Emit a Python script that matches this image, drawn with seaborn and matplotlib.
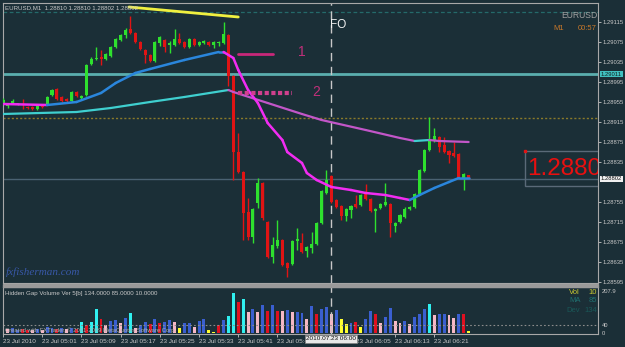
import numpy as np
import pandas as pd
import matplotlib
matplotlib.use("Agg")
import matplotlib.pyplot as plt
from matplotlib.patches import Rectangle
import seaborn as sns

# EURUSD M1 bars, 23 Jul 2010 04:53 .. 06:28
opens = [1.28953, 1.28947, 1.28953, 1.28951, 1.28951, 1.28945, 1.28945, 1.28941, 1.28949, 1.28951,
         1.28969, 1.28981, 1.28965, 1.28961, 1.28957, 1.28975, 1.28963, 1.28969, 1.29031, 1.29041,
         1.29045, 1.29041, 1.29047, 1.29065, 1.29079, 1.29089, 1.29101, 1.29093, 1.29075, 1.29059,
         1.29049, 1.29037, 1.29073, 1.29079, 1.29069, 1.29069, 1.29081, 1.29075, 1.29065, 1.29081,
         1.29069, 1.29073, 1.29075, 1.29069, 1.29073, 1.29073, 1.29089, 1.29007, 1.28855, 1.28815,
         1.28735, 1.28685, 1.28753, 1.28793, 1.28715, 1.28645, 1.28667, 1.28679, 1.28633, 1.28631,
         1.28677, 1.28673, 1.28657, 1.28663, 1.28671, 1.28713, 1.28773, 1.28807, 1.28759, 1.28747,
         1.28727, 1.28739, 1.28751, 1.28749, 1.28773, 1.28761, 1.28737, 1.28743, 1.28749, 1.28751,
         1.28707, 1.28715, 1.28725, 1.28741, 1.28745, 1.28771, 1.28817, 1.28859, 1.28877, 1.28885,
         1.28869, 1.28857, 1.28853, 1.28851, 1.28803, 1.28810]
highs = [1.28963, 1.28953, 1.28961, 1.28953, 1.28961, 1.28947, 1.28947, 1.28951, 1.28951, 1.28967,
         1.28981, 1.28983, 1.28967, 1.28963, 1.28977, 1.28977, 1.28969, 1.29031, 1.29045, 1.29065,
         1.29059, 1.29053, 1.29067, 1.29083, 1.29091, 1.29103, 1.29127, 1.29095, 1.29077, 1.29061,
         1.29051, 1.29077, 1.29087, 1.29081, 1.29077, 1.29101, 1.29093, 1.29077, 1.29083, 1.29083,
         1.29077, 1.29079, 1.29077, 1.29077, 1.29077, 1.29115, 1.29091, 1.29009, 1.28893, 1.28817,
         1.28763, 1.28743, 1.28803, 1.28795, 1.28717, 1.28685, 1.28719, 1.28681, 1.28635, 1.28679,
         1.28703, 1.28693, 1.28667, 1.28695, 1.28715, 1.28779, 1.28819, 1.28809, 1.28761, 1.28749,
         1.28743, 1.28749, 1.28769, 1.28771, 1.28791, 1.28763, 1.28743, 1.28753, 1.28793, 1.28753,
         1.28715, 1.28731, 1.28745, 1.28747, 1.28773, 1.28821, 1.28861, 1.28925, 1.28903, 1.28887,
         1.28885, 1.28859, 1.28875, 1.28853, 1.28813, 1.28810]
lows = [1.28951, 1.28943, 1.28951, 1.28949, 1.28941, 1.28941, 1.28939, 1.28939, 1.28943, 1.28949,
        1.28967, 1.28959, 1.28955, 1.28955, 1.28955, 1.28965, 1.28961, 1.28967, 1.29029, 1.29039,
        1.29029, 1.29039, 1.29045, 1.29063, 1.29077, 1.29083, 1.29091, 1.29073, 1.29059, 1.29033,
        1.29035, 1.29035, 1.29067, 1.29055, 1.29053, 1.29067, 1.29071, 1.29063, 1.29063, 1.29067,
        1.29067, 1.29071, 1.29067, 1.29063, 1.29067, 1.29071, 1.28987, 1.28799, 1.28813, 1.28679,
        1.28679, 1.28673, 1.28743, 1.28719, 1.28643, 1.28633, 1.28663, 1.28627, 1.28605, 1.28629,
        1.28659, 1.28653, 1.28645, 1.28653, 1.28669, 1.28711, 1.28771, 1.28753, 1.28743, 1.28719,
        1.28717, 1.28723, 1.28743, 1.28747, 1.28759, 1.28735, 1.28695, 1.28741, 1.28747, 1.28685,
        1.28695, 1.28713, 1.28723, 1.28739, 1.28743, 1.28769, 1.28815, 1.28857, 1.28875, 1.28855,
        1.28853, 1.28833, 1.28845, 1.28801, 1.28779, 1.28802]
closes = [1.28959, 1.28951, 1.28957, 1.28951, 1.28949, 1.28943, 1.28941, 1.28949, 1.28945, 1.28965,
          1.28979, 1.28961, 1.28957, 1.28957, 1.28975, 1.28967, 1.28967, 1.29029, 1.29041, 1.29043,
          1.29041, 1.29051, 1.29065, 1.29081, 1.29089, 1.29099, 1.29093, 1.29075, 1.29061, 1.29049,
          1.29037, 1.29075, 1.29085, 1.29065, 1.29073, 1.29081, 1.29073, 1.29065, 1.29081, 1.29069,
          1.29075, 1.29077, 1.29069, 1.29075, 1.29075, 1.29091, 1.29007, 1.28855, 1.28815, 1.28733,
          1.28685, 1.28741, 1.28793, 1.28723, 1.28645, 1.28669, 1.28679, 1.28629, 1.28623, 1.28677,
          1.28681, 1.28655, 1.28665, 1.28671, 1.28713, 1.28777, 1.28799, 1.28755, 1.28745, 1.28727,
          1.28741, 1.28747, 1.28745, 1.28769, 1.28761, 1.28737, 1.28741, 1.28751, 1.28755, 1.28713,
          1.28713, 1.28729, 1.28741, 1.28745, 1.28771, 1.28819, 1.28859, 1.28879, 1.28887, 1.28865,
          1.28855, 1.28849, 1.28847, 1.28803, 1.28811, 1.28802]

# hidden gap volume histogram
volumes = [25, 20, 25, 15, 20, 15, 15, 20, 15, 30, 25, 20, 25, 20, 25, 20, 55, 40, 55, 120,
           70, 40, 60, 65, 50, 75, 100, 25, 40, 55, 45, 70, 50, 55, 65, 55, 25, 50, 50, 30,
           60, 70, 15, 5, 40, 65, 85, 200, 155, 170, 105, 120, 105, 140, 110, 140, 110, 110, 115, 105,
           105, 100, 70, 135, 95, 120, 130, 95, 115, 70, 45, 50, 55, 30, 70, 110, 95, 50, 80, 125,
           60, 50, 60, 45, 80, 95, 120, 145, 90, 95, 95, 90, 75, 95, 95, 10]
vol_kind = ["r", "p", "b", "b", "r", "r", "p", "b", "p", "b", "b", "r", "b", "p", "b", "r", "c", "r", "c", "c",
            "r", "p", "b", "b", "p", "b", "c", "p", "b", "b", "r", "b", "r", "b", "b", "p", "y", "b", "b", "p",
            "b", "b", "y", "y", "r", "b", "c", "c", "r", "c", "p", "b", "p", "b", "r", "b", "r", "p", "b", "p",
            "b", "b", "p", "b", "r", "b", "b", "p", "b", "y", "y", "b", "r", "y", "b", "b", "r", "p", "b", "b",
            "p", "p", "b", "p", "b", "b", "b", "c", "p", "b", "b", "p", "p", "b", "r", "y"]

# moving averages (bar index, price)
fast_ma_idx = [0, 9, 15, 20, 23, 27, 30, 37, 44, 45, 47, 48, 50, 52, 54, 57, 58, 61, 62, 64,
               67, 71, 74, 78, 81, 83, 85, 88, 91, 93, 95]
fast_ma = [1.28951, 1.28949, 1.28955, 1.28973, 1.28993, 1.29013, 1.29021, 1.29039, 1.29055, 1.29055,
           1.29043, 1.29019, 1.28979, 1.28953, 1.28913, 1.28879, 1.28855, 1.28833, 1.28813, 1.28799,
           1.28785, 1.28779, 1.28773, 1.28769, 1.28763, 1.28759, 1.28769, 1.28783, 1.28795, 1.28803, 1.28803]
slow_ma_idx = [0, 15, 22, 30, 37, 46, 47, 54, 61, 65, 74, 81, 84, 87, 89, 95]
slow_ma = [1.28931, 1.28935, 1.28943, 1.28955, 1.28965, 1.28979, 1.28975, 1.28953, 1.28931, 1.28919,
           1.28899, 1.28883, 1.28877, 1.28879, 1.28877, 1.28875]

# drawn objects
trend_idx = [25.7, 48.0]
trend_price = [1.29145, 1.29125]
line1_idx = [48.0, 55.0]
line1_price = 1.29051
line2_idx = [48.0, 59.0]
line2_price = 1.28973
level_lines = {"resist": 1.29011, "top": 1.29135, "pivot": 1.28923, "bid": 1.28802}
news_bar = 67

price_ticks = [1.29115, 1.29075, 1.29035, 1.28995, 1.28955, 1.28915, 1.28875, 1.28835,
               1.28755, 1.28715, 1.28675, 1.28635, 1.28595]
time_tick_idx = [0, 8, 16, 24, 32, 40, 48, 56, 72, 80, 88]
time_tick_labels = ["23 Jul 2010", "23 Jul 05:01", "23 Jul 05:09", "23 Jul 05:17", "23 Jul 05:25",
                    "23 Jul 05:33", "23 Jul 05:41", "23 Jul 05:49", "23 Jul 06:05", "23 Jul 06:13",
                    "23 Jul 06:21"]

BG = "#1b2f37"
FG = "#c8c8c8"
BULL = "#2ee02e"
BEAR = "#e01414"
VOL_PAL = {"c": "#30f0f0", "r": "#e01020", "b": "#3a5fd0", "p": "#f5b8c6", "y": "#ffff30"}

sns.set_theme(style="dark", rc={"axes.facecolor": BG, "figure.facecolor": BG,
                                "axes.edgecolor": "#a8a8a8", "axes.grid": False})
plt.rcParams["font.family"] = ["Liberation Sans", "DejaVu Sans"]

W, H = 625, 347
fig = plt.figure(figsize=(W / 100, H / 100), dpi=100)


def fx(px):
    return px / W


def fy(py):
    return 1 - py / H


ax = fig.add_axes([fx(3), fy(283), fx(595), 280 / H])
axv = fig.add_axes([fx(3), fy(334), fx(595), 47 / H], sharex=ax)

# candles
df = pd.DataFrame({"o": opens, "h": highs, "l": lows, "c": closes})
df["i"] = np.arange(len(df))
up = df["c"] >= df["o"]
cols = np.where(up, BULL, BEAR)
body_lo = np.minimum(df["o"], df["c"])
body_h = np.maximum((df["c"] - df["o"]).abs(), 0.00002)
ax.vlines(df["i"], df["l"], df["h"], colors=cols, lw=1, zorder=3)
ax.bar(df["i"], body_h, bottom=body_lo, width=0.62, color=cols, linewidth=0, zorder=4)


def two_tone(a, xs, ys, c_up, c_dn, lw):
    for k in range(len(xs) - 1):
        c = c_up if ys[k + 1] >= ys[k] else c_dn
        a.plot(xs[k:k + 2], ys[k:k + 2], color=c, lw=lw, solid_capstyle="round", zorder=5)


two_tone(ax, slow_ma_idx, slow_ma, "#3fcfcf", "#c256c8", 1.6)
two_tone(ax, fast_ma_idx, fast_ma, "#2a86dc", "#f22cf2", 1.8)

# levels
ax.axhline(level_lines["top"], color="#246a6a", lw=0.9, ls=(0, (3, 2)), zorder=1)
ax.axhline(level_lines["resist"], color="#5aaeae", lw=2, zorder=1)
ax.axhline(level_lines["pivot"], color="#8a7a2a", lw=1, ls=(0, (1.5, 1.5)), zorder=1)
ax.axhline(level_lines["bid"], color="#4a6272", lw=1, zorder=1)
ax.plot(trend_idx, trend_price, color="#f0f040", lw=2, zorder=6)
ax.plot(line1_idx, [line1_price] * 2, color="#c8287a", lw=2, zorder=6)
ax.plot(line2_idx, [line2_price] * 2, color="#d0408e", lw=3, ls=(0, (1, 0.6)), zorder=6)
for a in (ax, axv):
    a.axvline(news_bar, color="#c8c8c8", lw=1, ls=(0, (6, 4)), zorder=2)

ax.set_xlim(0, 121.4)
ax.set_ylim(1.28593, 1.29153)
ax.yaxis.tick_right()
ax.set_yticks(price_ticks)
ax.set_yticklabels([f"{t:.5f}" for t in price_ticks])
ax.tick_params(axis="y", colors=FG, labelsize=4.2, length=2, width=0.6, pad=1.2)
ax.tick_params(axis="x", bottom=False, labelbottom=False)

# big price box
ax.add_patch(Rectangle((106.5, 1.28787), 20, 0.0007, fill=False, ec="#5a6a78", lw=1, zorder=7))
ax.plot([106.5], [1.28857], marker="s", ms=1.5, color=BEAR, zorder=8)
ax.text(107.0, 1.28821, "1.2880", color="#e81010", fontsize=17.5, va="center", ha="left",
        clip_on=True, zorder=8)

# volume panel
vdf = pd.DataFrame({"i": np.arange(len(volumes)), "v": volumes, "k": vol_kind})
sns.barplot(data=vdf, x="i", y="v", hue="k", palette=VOL_PAL, native_scale=True, dodge=False,
            width=0.6, saturation=1, legend=False, linewidth=0, ax=axv)
axv.axhline(40, color="#8c8c8c", lw=0.8, ls=(0, (1.5, 2)), zorder=1)
axv.set_ylim(-5, 230)
axv.set_xlim(0, 121.4)
axv.set_xlabel("")
axv.set_ylabel("")
axv.yaxis.tick_right()
axv.set_yticks([0, 40, 207.9])
axv.set_yticklabels(["0", "40", "207.9"])
axv.tick_params(axis="y", colors=FG, labelsize=4.2, length=0, pad=3)
axv.set_xticks(time_tick_idx)
axv.set_xticklabels(time_tick_labels, ha="left")
axv.tick_params(axis="x", colors=FG, labelsize=4.6, length=2, width=0.6, pad=1.5, bottom=True)

for a in (ax, axv):
    for s in a.spines.values():
        s.set_color("#a8a8a8")
        s.set_linewidth(0.8)

# panel separator
fig.patches.append(Rectangle((fx(3), fy(287)), fx(595), 3.5 / H, transform=fig.transFigure,
                             color="#9a9a9a", zorder=10))

# texts
fig.text(fx(5), fy(8), "EURUSD,M1  1.28810 1.28810 1.28802 1.28802", color=FG, fontsize=4.4, va="center")
fig.text(fx(597), fy(15), "EURUSD", color="#a0a0a0", fontsize=6.2, ha="right", va="center")
fig.text(fx(553), fy(28), "M1", color="#c8782a", fontsize=5.5, va="center")
fig.text(fx(597), fy(28), "00:57", color="#c8782a", fontsize=5.5, ha="right", va="center")
fig.text(fx(338), fy(25), "FO", color="#f0f0f0", fontsize=8.5, ha="center", va="center")
fig.text(fx(302), fy(52), "1", color="#c0307a", fontsize=10, ha="center", va="center")
fig.text(fx(316), fy(92), "2", color="#c0307a", fontsize=10, ha="center", va="center")
fig.text(fx(6), fy(272), "fxfisherman.com", color="#3858a8", fontsize=8, style="italic",
         family="Liberation Serif", va="center")
fig.text(fx(5), fy(293), "Hidden Gap Volume Ver 5[b] 134.0000 85.0000 10.0000", color=FG,
         fontsize=4.4, va="center")
fig.text(fx(5), fy(330), "Created with FXTrader, \u00a9 2001-2009 MetaQuotes Software Corp.",
         color="#b0b0b0", fontsize=4.2, va="center", zorder=12)
fig.text(fx(569), fy(293), "Vol", color="#c8c832", fontsize=5.5, va="center")
fig.text(fx(597), fy(293), "10", color="#c8c832", fontsize=5.5, ha="right", va="center")
fig.text(fx(569), fy(301), "MA", color="#207070", fontsize=5.5, va="center")
fig.text(fx(597), fy(301), "85", color="#207070", fontsize=5.5, ha="right", va="center")
fig.text(fx(566), fy(310), "Dev", color="#1a5858", fontsize=5.5, va="center")
fig.text(fx(597), fy(310), "134", color="#1a5858", fontsize=5.5, ha="right", va="center")

# price / time highlight boxes
fig.text(fx(601), fy(74), "1.29011", color="#102020", fontsize=4.2, va="center",
         bbox=dict(boxstyle="square,pad=0.15", fc="#40c0c0", ec="none"))
fig.text(fx(601), fy(179), "1.28802", color="#101010", fontsize=4.2, va="center",
         bbox=dict(boxstyle="square,pad=0.15", fc="#f0f0f0", ec="none"))
fig.text(fx(331), fy(339), "2010.07.23 06:00", color="#101010", fontsize=4.6, ha="center", va="center",
         bbox=dict(boxstyle="square,pad=0.2", fc="#e8e8e8", ec="#808080", lw=0.5), zorder=12)

fig.savefig("out.png", dpi=100, facecolor=BG)
